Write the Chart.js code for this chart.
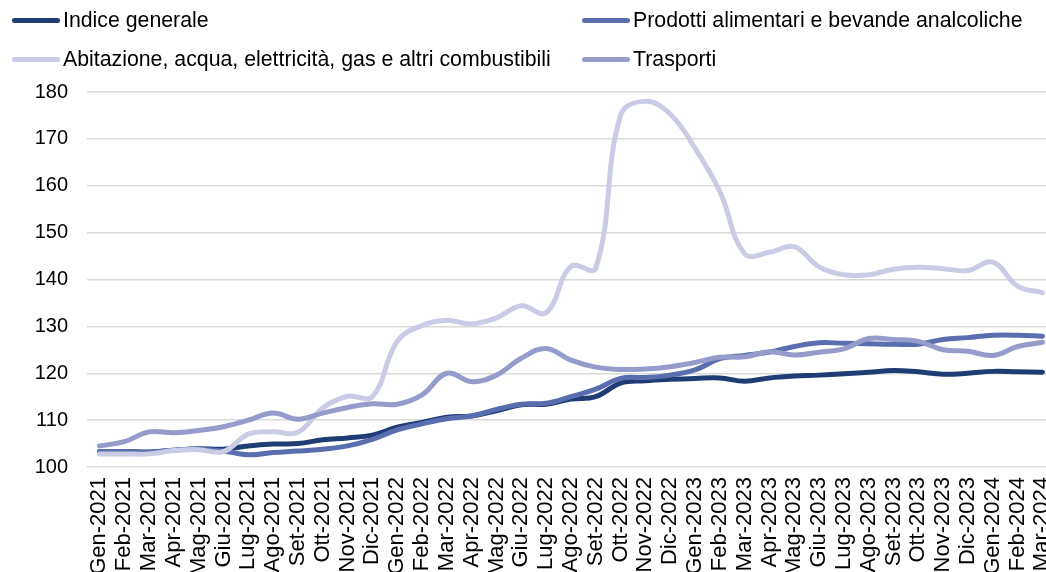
<!DOCTYPE html>
<html lang="it">
<head>
   <meta charset="UTF-8">
   <title>Indici dei prezzi</title>
   <script src="https://cdn.jsdelivr.net/npm/chart.js"></script>
   <style>
      html, body { margin: 0; padding: 0; background: #fff; overflow: hidden; }
      body { width: 1046px; height: 572px; position: relative; font-family: 'Liberation Sans', Arial, sans-serif; }
      #wrap { position: absolute; left: 0; top: 0; width: 1079px; height: 600px; }
      .leg { position: absolute; display: flex; align-items: center; font-size: 21.3px; color: #000; white-space: nowrap; }
      .leg span.sw { display: inline-block; width: 48px; height: 5px; border-radius: 3px; margin-right: 3px; }
   </style>
</head>
<body>
   <div id="wrap"><canvas id="chart" width="1079" height="600"></canvas></div>
   <div id="legend"></div>

   <script>
      // categories (monthly)
      const months = [
         'Gen-2021', 'Feb-2021', 'Mar-2021', 'Apr-2021', 'Mag-2021', 'Giu-2021', 'Lug-2021', 'Ago-2021', 'Set-2021', 'Ott-2021', 'Nov-2021', 'Dic-2021',
         'Gen-2022', 'Feb-2022', 'Mar-2022', 'Apr-2022', 'Mag-2022', 'Giu-2022', 'Lug-2022', 'Ago-2022', 'Set-2022', 'Ott-2022', 'Nov-2022', 'Dic-2022',
         'Gen-2023', 'Feb-2023', 'Mar-2023', 'Apr-2023', 'Mag-2023', 'Giu-2023', 'Lug-2023', 'Ago-2023', 'Set-2023', 'Ott-2023', 'Nov-2023', 'Dic-2023',
         'Gen-2024', 'Feb-2024', 'Mar-2024'
      ];

      const indiceGenerale = [
         103.3, 103.3, 103.2, 103.6, 103.9, 103.8, 104.5, 104.9, 105.0, 105.8, 106.2, 106.8,
         108.5, 109.5, 110.6, 110.9, 112.0, 113.3, 113.4, 114.5, 115.0, 117.9, 118.4, 118.7,
         118.9, 119.0, 118.3, 119.0, 119.4, 119.6, 119.9, 120.2, 120.6, 120.3, 119.8, 120.0,
         120.4, 120.3, 120.2
      ];
      const prodottiAlimentari = [
         103.3, 103.3, 103.1, 103.6, 103.8, 103.4, 102.6, 103.1, 103.4, 103.8, 104.5, 105.9,
         107.9, 109.2, 110.3, 110.9, 112.3, 113.4, 113.6, 115.0, 116.6, 118.9, 119.1, 119.6,
         120.7, 123.1, 123.8, 124.5, 125.7, 126.5, 126.4, 126.3, 126.2, 126.2, 127.2, 127.6,
         128.1, 128.1, 127.9
      ];
      const abitazione = [
         102.8, 102.8, 102.8, 103.5, 103.7, 103.3, 107.0, 107.5, 107.4, 112.6, 115.1, 115.0,
         126.8, 130.2, 131.3, 130.5, 131.8, 134.4, 132.9, 142.8, 142.4, 175.0, 178.0, 175.3,
         168.0, 158.8, 145.5, 145.8, 147.0, 142.7, 141.0, 141.0, 142.2, 142.6, 142.3, 141.9,
         143.7, 138.6, 137.2
      ];
      const trasporti = [
         104.5, 105.4, 107.5, 107.3, 107.8, 108.6, 110.0, 111.5, 110.2, 111.5, 112.7, 113.5,
         113.4, 115.4, 120.0, 118.2, 119.6, 123.2, 125.3, 122.8, 121.3, 120.8, 120.9, 121.4,
         122.3, 123.4, 123.5, 124.6, 123.9, 124.5, 125.2, 127.4, 127.2, 126.8, 125.0, 124.7,
         123.8, 125.7, 126.6
      ];

      const yTicks = [100, 110, 120, 130, 140, 150, 160, 170, 180];

      const seriesNames = [
         'Indice generale',
         'Prodotti alimentari e bevande analcoliche',
         'Abitazione, acqua, elettricità, gas e altri combustibili',
         'Trasporti'
      ];
      const seriesColors = ['#203C74', '#5A6EAF', '#CACCE6', '#959BCB'];
      const seriesData = [indiceGenerale, prodottiAlimentari, abitazione, trasporti];

      const fontFamily = "'Liberation Sans', Arial, sans-serif";

      // html legend, two columns
      const legendPos = [[12, 20], [582, 20], [12, 59], [582, 59]];
      const legendBox = document.getElementById('legend');
      seriesNames.forEach((name, i) => {
         const item = document.createElement('div');
         item.className = 'leg';
         item.style.left = legendPos[i][0] + 'px';
         item.style.top = (legendPos[i][1] - 12) + 'px';
         item.innerHTML = `<span class="sw" style="background:${seriesColors[i]}"></span>${name}`;
         legendBox.appendChild(item);
      });

      const ctx = document.getElementById('chart').getContext('2d');
      new Chart(ctx, {
         type: 'line',
         data: {
            labels: months,
            datasets: seriesData.map((d, i) => ({
               label: seriesNames[i],
               data: d,
               borderColor: seriesColors[i],
               backgroundColor: seriesColors[i],
               borderWidth: 5,
               pointRadius: 0,
               tension: 0.4,
               borderCapStyle: 'round',
               borderJoinStyle: 'round',
               order: seriesData.length - i
            }))
         },
         options: {
            responsive: false,
            devicePixelRatio: 1,
            animation: false,
            layout: { padding: { top: 92, left: 0, right: 14, bottom: 0 } },
            plugins: {
               legend: { display: false },
               tooltip: { enabled: false }
            },
            scales: {
               x: {
                  offset: true,
                  grid: { display: false, drawTicks: false },
                  border: { display: false },
                  ticks: {
                     autoSkip: false,
                     minRotation: 90,
                     maxRotation: 90,
                     padding: 10,
                     color: '#000',
                     font: { family: fontFamily, size: 22 }
                  },
                  afterFit: s => { s.height = 133; }
               },
               y: {
                  min: 100,
                  max: 180,
                  afterBuildTicks: s => { s.ticks = yTicks.map(v => ({ value: v })); },
                  grid: { color: '#d9d9d9', lineWidth: 1.5, drawTicks: false },
                  border: { display: false },
                  ticks: {
                     padding: 19,
                     color: '#000',
                     font: { family: fontFamily, size: 20 }
                  },
                  afterFit: s => { s.width = 87; }
               }
            }
         }
      });
   </script>
</body>
</html>
